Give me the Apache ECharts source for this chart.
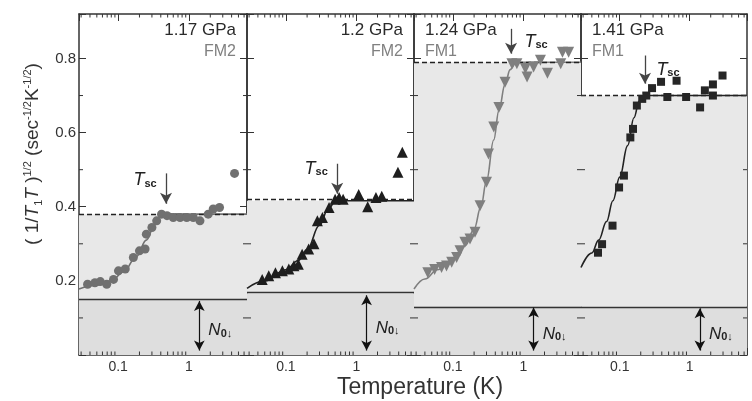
<!DOCTYPE html>
<html>
<head>
<meta charset="utf-8">
<script src="https://cdn.jsdelivr.net/npm/echarts@6/dist/echarts.min.js"></script>
<style>
    html, body { margin: 0; padding: 0; background: #fff; }
    #main { width: 752px; height: 401px; }
</style>
</head>
<body>
<div id="main"></div>
<script>
    // data: temperature (K) and (1/T1T)^1/2
    var p1T = [0.037, 0.047, 0.056, 0.069, 0.086, 0.101, 0.126, 0.164, 0.20, 0.24, 0.25, 0.30, 0.35, 0.41, 0.49, 0.60, 0.75, 0.93, 1.15, 1.43, 1.87, 2.2, 2.7, 4.4];
    var p1V = [0.191, 0.195, 0.198, 0.191, 0.204, 0.227, 0.232, 0.263, 0.281, 0.286, 0.326, 0.344, 0.362, 0.38, 0.376, 0.371, 0.371, 0.371, 0.371, 0.362, 0.38, 0.394, 0.398, 0.49];
    var p2T = [0.046, 0.057, 0.071, 0.089, 0.11, 0.13, 0.15, 0.17, 0.21, 0.25, 0.28, 0.33, 0.41, 0.5, 0.57, 0.65, 1.08, 1.45, 1.9, 2.3, 3.9, 4.5];
    var p2V = [0.204, 0.214, 0.222, 0.227, 0.232, 0.241, 0.245, 0.272, 0.286, 0.30, 0.362, 0.371, 0.398, 0.42, 0.425, 0.42, 0.433, 0.40, 0.425, 0.428, 0.493, 0.547];
    var p3T = [0.044, 0.055, 0.069, 0.081, 0.096, 0.113, 0.126, 0.148, 0.175, 0.206, 0.243, 0.30, 0.32, 0.38, 0.45, 0.55, 0.69, 0.81, 1.07, 1.13, 1.4, 1.75, 2.2, 3.4, 3.6, 4.4];
    var p3V = [0.222, 0.231, 0.236, 0.24, 0.25, 0.263, 0.281, 0.304, 0.313, 0.331, 0.403, 0.466, 0.542, 0.615, 0.668, 0.736, 0.786, 0.786, 0.773, 0.75, 0.777, 0.795, 0.76, 0.786, 0.817, 0.817];
    var p4T = [0.049, 0.056, 0.079, 0.098, 0.115, 0.142, 0.155, 0.176, 0.21, 0.24, 0.29, 0.39, 0.48, 0.65, 0.89, 1.41, 1.65, 2.15, 2.15, 2.95];
    var p4V = [0.276, 0.299, 0.349, 0.452, 0.484, 0.587, 0.61, 0.673, 0.691, 0.70, 0.72, 0.737, 0.696, 0.74, 0.696, 0.668, 0.714, 0.70, 0.73, 0.754];

    // fitted curves
    var f1T = [0.028, 0.05, 0.08, 0.12, 0.18, 0.25, 0.33, 0.42, 0.5, 1, 6.6];
    var f1V = [0.178, 0.188, 0.2, 0.225, 0.265, 0.31, 0.352, 0.376, 0.38, 0.38, 0.38];
    var f2T = [0.028, 0.05, 0.1, 0.15, 0.2, 0.3, 0.4, 0.5, 0.6, 1, 6.6];
    var f2V = [0.18, 0.2, 0.23, 0.255, 0.285, 0.35, 0.395, 0.413, 0.416, 0.416, 0.416];
    var f3T = [0.028, 0.04, 0.06, 0.1, 0.15, 0.2, 0.25, 0.3, 0.38, 0.45, 0.55, 0.65, 0.8, 1.2, 6.6];
    var f3V = [0.178, 0.205, 0.23, 0.255, 0.295, 0.34, 0.4, 0.47, 0.58, 0.66, 0.73, 0.77, 0.79, 0.79, 0.79];
    var f4T = [0.028, 0.04, 0.05, 0.065, 0.08, 0.1, 0.13, 0.16, 0.19, 0.23, 0.4, 6.6];
    var f4V = [0.236, 0.275, 0.31, 0.36, 0.416, 0.48, 0.565, 0.64, 0.685, 0.70, 0.70, 0.70];

    var pressures = ['1.17 GPa', '1.2 GPa', '1.24 GPa', '1.41 GPa'];
    var phases = ['FM2', 'FM2', 'FM1', 'FM1'];
    var plateau = [0.38, 0.416, 0.79, 0.70];   // dashed level
    var n0Level = [0.15, 0.165, 0.132, 0.13];  // N0 line
    var tscT = [0.474, 0.535, 0.67, 0.23];
    var tscTop = [0.49, 0.516, 0.88, 0.808];
    var tscBot = [0.408, 0.435, 0.813, 0.732];
    var n0T = 1.4;

    var xTicks = ['0.1', '1'];
    var yTicks = ['0.2', '0.4', '0.6', '0.8'];
    var xMinor = [0.03, 0.04, 0.05, 0.06, 0.07, 0.08, 0.09, 0.2, 0.3, 0.4, 0.5, 0.6, 0.7, 0.8, 0.9, 2, 3, 4, 5, 6];
    var yMinor = [0.1, 0.3, 0.5, 0.7];

    var xMin = 0.028, xMax = 6.6, yMin = 0, yMax = 0.92;
    var axisColor = '#333';
    var font = 'Liberation Sans, Arial, sans-serif';

    var chart = echarts.init(document.getElementById('main'));

    var panels = [
        {T: p1T, V: p1V, fT: f1T, fV: f1V, symbol: 'circle', size: 9, rot: 0, color: '#707070', line: '#707070'},
        {T: p2T, V: p2V, fT: f2T, fV: f2V, symbol: 'triangle', size: 11, rot: 0, color: '#1e1e1e', line: '#222'},
        {T: p3T, V: p3V, fT: f3T, fV: f3V, symbol: 'triangle', size: 11, rot: 180, color: '#7f7f7f', line: '#7f7f7f'},
        {T: p4T, V: p4V, fT: f4T, fV: f4V, symbol: 'rect', size: 8, rot: 0, color: '#262626', line: '#222'}
    ];
    var gridLeft = [79, 247, 414, 581];
    var gridWidth = [168, 167, 167, 166];
    var tscOffset = [[-21, 6], [-21, 4], [25, 12], [23, 13]];

    function zip(a, b) {
        return a.map(function (v, i) { return [v, b[i]]; });
    }

    function xLabel(v) {
        for (var i = 0; i < xTicks.length; i++) {
            if (Math.abs(v - parseFloat(xTicks[i])) < 1e-6) return xTicks[i];
        }
        return '';
    }
    function yLabel(v) {
        for (var i = 0; i < yTicks.length; i++) {
            if (Math.abs(v - parseFloat(yTicks[i])) < 1e-6) return yTicks[i];
        }
        return '';
    }

    // minor ticks drawn on both sides through the axis scales
    function minorXItem(params, api) {
        var cs = params.coordSys;
        var x = api.coord([api.value(0), 0.5])[0];
        var b = cs.y + cs.height;
        return {type: 'group', children: [
            {type: 'line', shape: {x1: x, y1: b, x2: x, y2: b - 3.5}, style: {stroke: axisColor, lineWidth: 1}},
            {type: 'line', shape: {x1: x, y1: cs.y, x2: x, y2: cs.y + 3.5}, style: {stroke: axisColor, lineWidth: 1}}
        ]};
    }
    function minorYItem(params, api) {
        var cs = params.coordSys;
        var y = api.coord([0.1, api.value(1)])[1];
        var r = cs.x + cs.width;
        return {type: 'group', children: [
            {type: 'line', shape: {x1: cs.x, y1: y, x2: cs.x + 4, y2: y}, style: {stroke: axisColor, lineWidth: 1}},
            {type: 'line', shape: {x1: r, y1: y, x2: r - 4, y2: y}, style: {stroke: axisColor, lineWidth: 1}}
        ]};
    }

    var grids = [], xAxes = [], yAxes = [], series = [], graphics = [];

    panels.forEach(function (p, i) {
        grids.push({left: gridLeft[i], top: 14, width: gridWidth[i], height: 341});

        ['bottom', 'top'].forEach(function (pos) {
            xAxes.push({
                type: 'log', gridIndex: i, position: pos, min: xMin, max: xMax,
                axisLine: {show: true, onZero: false, lineStyle: {color: axisColor, width: 1.5}},
                axisTick: {show: true, inside: true, length: 7, lineStyle: {color: axisColor}},
                axisLabel: {show: pos == 'bottom', formatter: xLabel, color: '#333', fontSize: 14, fontFamily: font, margin: 5},
                splitLine: {show: false}
            });
        });
        ['left', 'right'].forEach(function (pos) {
            yAxes.push({
                type: 'value', gridIndex: i, position: pos, min: yMin, max: yMax, interval: 0.2,
                axisLine: {show: true, onZero: false, lineStyle: {color: axisColor, width: 1.5}},
                axisTick: {show: true, inside: true, length: 7, lineStyle: {color: axisColor}},
                axisLabel: {show: i == 0 && pos == 'left', formatter: yLabel, color: '#333', fontSize: 15, fontFamily: font, margin: 3},
                splitLine: {show: false}
            });
        });

        var xi = i * 2, yi = i * 2;

        // fit curve with shading, plateau and N0 lines and arrows
        series.push({
            type: 'line', xAxisIndex: xi, yAxisIndex: yi,
            data: zip(p.fT, p.fV), smooth: 0.4, smoothMonotone: 'x',
            showSymbol: false, symbol: 'none',
            lineStyle: {color: p.line, width: 1.6},
            z: 3,
            markArea: {
                silent: true,
                data: [
                    [{yAxis: 0, itemStyle: {color: '#dedede'}}, {yAxis: n0Level[i]}],
                    [{yAxis: n0Level[i], itemStyle: {color: '#e8e8e8'}}, {yAxis: plateau[i]}]
                ]
            },
            markLine: {
                silent: true, symbol: ['none', 'none'], animation: false,
                label: {show: false},
                data: [
                    {yAxis: plateau[i], lineStyle: {type: [5, 3], color: '#222', width: 1.3}},
                    {yAxis: n0Level[i], lineStyle: {type: 'solid', color: '#333', width: 1.3}},
                    [{coord: [tscT[i], tscTop[i]], symbol: 'none'},
                     {coord: [tscT[i], tscBot[i]], symbol: 'arrow', symbolSize: [9, 11],
                      lineStyle: {type: 'solid', color: '#444', width: 1.3}}],
                    [{coord: [n0T, n0Level[i] - 0.004], symbol: 'arrow', symbolSize: [8, 10]},
                     {coord: [n0T, 0.012], symbol: 'arrow', symbolSize: [8, 10],
                      lineStyle: {type: 'solid', color: '#111', width: 1.2}}]
                ]
            },
            markPoint: {
                silent: true, symbol: 'circle', symbolSize: 0, animation: false,
                itemStyle: {color: 'transparent'},
                data: [
                    {coord: [tscT[i], tscTop[i]], label: {show: true, offset: tscOffset[i], formatter: '{t|T}{s|sc}',
                        rich: {
                            t: {fontSize: 18, fontStyle: 'italic', fontFamily: font, color: '#222', verticalAlign: 'bottom', lineHeight: 20},
                            s: {fontSize: 11, fontWeight: 'bold', fontFamily: font, color: '#222', verticalAlign: 'bottom', lineHeight: 14}
                        }}},
                    {coord: [n0T, n0Level[i] / 2], label: {show: true, offset: [21, 2], formatter: '{n|N}{s|0↓}',
                        rich: {
                            n: {fontSize: 17, fontStyle: 'italic', fontFamily: font, color: '#222', verticalAlign: 'bottom', lineHeight: 20},
                            s: {fontSize: 11, fontWeight: 'bold', fontFamily: font, color: '#222', verticalAlign: 'bottom', lineHeight: 14}
                        }}}
                ]
            }
        });

        // measured points
        series.push({
            type: 'scatter', xAxisIndex: xi, yAxisIndex: yi,
            data: zip(p.T, p.V), symbol: p.symbol, symbolSize: p.size, symbolRotate: p.rot,
            itemStyle: {color: p.color, opacity: 1}, z: 5
        });

        series.push({
            type: 'custom', xAxisIndex: xi, yAxisIndex: yi, renderItem: minorXItem, silent: true, z: 6,
            data: xMinor.map(function (v) { return [v, 0.5]; })
        });
        series.push({
            type: 'custom', xAxisIndex: xi, yAxisIndex: yi, renderItem: minorYItem, silent: true, z: 6,
            data: yMinor.map(function (v) { return [0.1, v]; })
        });

        // pressure and phase labels
        var right = i < 2;
        var tx = right ? gridLeft[i] + gridWidth[i] - 11 : gridLeft[i] + 11;
        graphics.push({type: 'text', x: tx, y: 30, style: {text: pressures[i], fill: '#2a2a2a', font: '17px ' + font, align: right ? 'right' : 'left', verticalAlign: 'middle'}});
        graphics.push({type: 'text', x: tx, y: 52, style: {text: phases[i], fill: '#808080', font: '16px ' + font, align: right ? 'right' : 'left', verticalAlign: 'middle'}});
    });

    // axis titles
    graphics.push({type: 'text', x: 420, y: 388, style: {text: 'Temperature (K)', fill: '#333', font: '23px ' + font, align: 'center', verticalAlign: 'middle'}});
    graphics.push({type: 'text', x: 33, y: 154, rotation: Math.PI / 2, style: {
        text: '{m|( 1/}{i|T}{b|1}{i|T}{m| )}{p|1/2}{m| (sec}{p|-1/2}{m|K}{p|-1/2}{m|)}',
        align: 'center', verticalAlign: 'middle', fill: '#333',
        rich: {
            m: {fontSize: 19, fontFamily: font, fill: '#333', verticalAlign: 'middle', lineHeight: 22},
            i: {fontSize: 19, fontFamily: font, fontStyle: 'italic', fill: '#333', verticalAlign: 'middle', lineHeight: 22},
            p: {fontSize: 11, fontFamily: font, fill: '#333', verticalAlign: 'top', lineHeight: 12},
            b: {fontSize: 11, fontFamily: font, fill: '#333', verticalAlign: 'bottom', lineHeight: 12}
        }
    }});

    chart.setOption({
        animation: false,
        backgroundColor: '#fff',
        grid: grids,
        xAxis: xAxes,
        yAxis: yAxes,
        series: series,
        graphic: graphics
    });
</script>
</body>
</html>
